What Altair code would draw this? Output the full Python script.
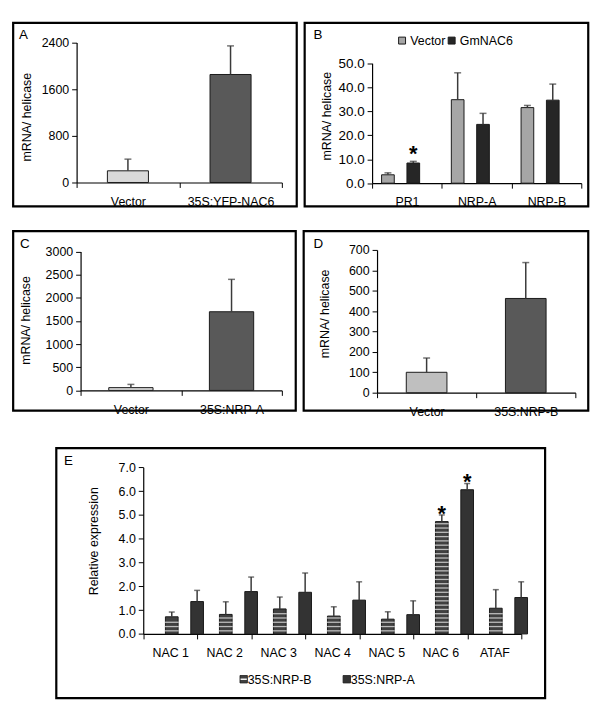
import altair as alt
import pandas as pd

FONT = "Liberation Sans"

# ---------------- data ----------------
A_cats = ["Vector", "35S:YFP-NAC6"]
A_vals = [200, 1850]
A_errs = [200, 490]

B_cats = ["PR1", "NRP-A", "NRP-B"]
B_series = ["Vector", "GmNAC6"]
B_vector = [3.5, 34.8, 31.5]
B_vector_err = [0.8, 11.2, 0.9]
B_nac6 = [8.4, 24.5, 34.6]
B_nac6_err = [0.7, 4.6, 6.7]
B_nac6_sig = [True, False, False]

C_cats = ["Vector", "35S:NRP-A"]
C_vals = [60, 1700]
C_errs = [70, 700]

D_cats = ["Vector", "35S:NRP-B"]
D_vals = [100, 462]
D_errs = [70, 176]

E_cats = ["NAC 1", "NAC 2", "NAC 3", "NAC 4", "NAC 5", "NAC 6", "ATAF"]
E_series = ["35S:NRP-B", "35S:NRP-A"]
E_nrpb = [0.72, 0.82, 1.05, 0.75, 0.62, 4.72, 1.08]
E_nrpb_err = [0.20, 0.53, 0.50, 0.39, 0.31, 0.28, 0.78]
E_nrpa = [1.36, 1.78, 1.75, 1.42, 0.81, 6.06, 1.53]
E_nrpa_err = [0.47, 0.61, 0.81, 0.77, 0.58, 0.26, 0.66]
E_sig = [False, False, False, False, False, True, False]

DARK = "#1a1a1a"
ERRC = "#3a3a3a"


def x_axis(offset, pad=8):
    return alt.Axis(title=None, labelAngle=0, tickBand="extent", tickSize=5,
                    labelPadding=pad, domainWidth=1.2, domainColor="#000",
                    tickColor="#000", tickWidth=1, labelColor="#000", labelFont=FONT,
                    labelFontSize=12.5, offset=offset, labelOverlap=False)


def y_axis(ticks, fmt, title, offset, tx, ty, lsize=12.5):
    return alt.Axis(values=ticks, format=fmt, grid=False, tickSize=5,
                    labelPadding=3, domainWidth=1.2, domainColor="#000",
                    tickColor="#000", tickWidth=1, labelColor="#000", labelFont=FONT,
                    labelFontSize=lsize, title=title, titleFont=FONT,
                    titleFontSize=12.5, titleFontWeight="normal",
                    titleColor="#000", titleX=tx, titleY=ty,
                    titleAlign="center", titleBaseline="middle", titleAngle=270,
                    offset=offset, labelOverlap=False)


def frame(W, H, letter, lxy):
    one = pd.DataFrame({"k": [0]})
    rect = alt.Chart(one).mark_rect(fill="white", fillOpacity=0, stroke="#000",
                                    strokeWidth=2.2).encode(
        x=alt.value(0), x2=alt.value(W), y=alt.value(0), y2=alt.value(H))
    lab = alt.Chart(one).mark_text(text=letter, align="left", baseline="alphabetic",
                                   fontSize=13.5, font=FONT, color="#000").encode(
        x=alt.value(lxy[0]), y=alt.value(lxy[1]))
    return rect, lab


def single_panel(cats, vals, errs, colors, ymax, ticks, W, H, xr, yr,
                 letter, lxy, txy, band=0.4):
    df = pd.DataFrame({"cat": cats, "val": vals, "err": errs})
    base = alt.Chart(df).transform_calculate(top="datum.val + datum.err")
    xscale = alt.Scale(range=list(xr), paddingInner=0, paddingOuter=0)
    yscale = alt.Scale(domain=[0, ymax], range=[yr[0], yr[1]], nice=False, zero=True)
    xa = x_axis(-(H - yr[0]))
    ya = y_axis(ticks, "d", "mRNA/ helicase", -xr[0], txy[0], txy[1])
    xe = alt.X("cat:N", sort=cats, scale=xscale, axis=xa)
    bars = base.mark_bar(width=alt.RelativeBandSize(band), stroke=DARK,
                         strokeWidth=1).encode(
        x=xe, y=alt.Y("val:Q", scale=yscale, axis=ya),
        fill=alt.Fill("cat:N", scale=alt.Scale(domain=cats, range=colors), legend=None))
    err = base.mark_rule(color=ERRC, strokeWidth=1.5).encode(
        x=xe, y=alt.Y("val:Q", scale=yscale, axis=ya), y2="top:Q")
    cap = base.mark_tick(orient="horizontal", size=7, thickness=1.5, color=ERRC).encode(
        x=xe, y=alt.Y("top:Q", scale=yscale, axis=ya))
    rect, lab = frame(W, H, letter, lxy)
    return alt.layer(bars, err, cap, lab, rect).properties(width=W, height=H)


# ---------------- panel A ----------------
pA = single_panel(A_cats, A_vals, A_errs, ["#d9d9d9", "#595959"], 2400,
                  [0, 800, 1600, 2400], 286, 185, (64, 271), (161, 19.7),
                  "A", (6, 16), (-51, 94.7))

# ---------------- panel C ----------------
pC = single_panel(C_cats, C_vals, C_errs, ["#d9d9d9", "#595959"], 3000,
                  [0, 500, 1000, 1500, 2000, 2500, 3000], 285, 181, (68, 271),
                  (160.7, 20.7), "C", (7, 17.3), (-56, 89.7), band=0.44)

# ---------------- panel D ----------------
pD = single_panel(D_cats, D_vals, D_errs, ["#bfbfbf", "#595959"], 700,
                  [0, 100, 200, 300, 400, 500, 600, 700], 287, 181, (74, 274),
                  (163, 19), "D", (10, 17), (-53, 83), band=0.41)

# ---------------- panel B ----------------
WB, HB = 286, 185
rowsB = []
for i, c in enumerate(B_cats):
    rowsB.append({"cat": c, "series": B_series[0], "val": B_vector[i],
                  "err": B_vector_err[i], "sig": False})
    rowsB.append({"cat": c, "series": B_series[1], "val": B_nac6[i],
                  "err": B_nac6_err[i], "sig": B_nac6_sig[i]})
dfB = pd.DataFrame(rowsB)
baseB = alt.Chart(dfB).transform_calculate(top="datum.val + datum.err")
xaB = x_axis(-(HB - 161.7))
yaB = y_axis([0, 10, 20, 30, 40, 50], ".1f", "mRNA/ helicase", -68, -46, 93.7, 13.5)
ysB = alt.Scale(domain=[0, 50], range=[161.7, 40.7], nice=False)
xB = alt.X("cat:N", sort=B_cats,
           scale=alt.Scale(range=[68, 279], paddingInner=0, paddingOuter=0), axis=xaB)
xoB = alt.XOffset("series:N", sort=B_series,
                  scale=alt.Scale(paddingInner=0, paddingOuter=0.75))
barsB = baseB.mark_bar(stroke=DARK, strokeWidth=1).encode(
    x=xB, xOffset=xoB,
    y=alt.Y("val:Q", scale=ysB, axis=yaB),
    fill=alt.Fill("series:N", sort=B_series,
                  scale=alt.Scale(domain=B_series, range=["#a6a6a6", "#262626"]),
                  legend=alt.Legend(title=None, orient="none", direction="horizontal",
                                    legendX=92, legendY=11.5, padding=0,
                                    symbolType="square", symbolSize=49,
                                    symbolStrokeColor=DARK, symbolStrokeWidth=1,
                                    labelFont=FONT, labelFontSize=12.5,
                                    labelColor="#000", labelOffset=2,
                                    columnPadding=0)))
errB = baseB.mark_rule(color=ERRC, strokeWidth=1.5).encode(
    x=xB, xOffset=xoB, y=alt.Y("val:Q", scale=ysB, axis=yaB), y2="top:Q")
capB = baseB.mark_tick(orient="horizontal", size=7, thickness=1.5, color=ERRC).encode(
    x=xB, xOffset=xoB, y=alt.Y("top:Q", scale=ysB, axis=yaB))
starB = baseB.transform_filter("datum.sig").mark_text(
    text="*", fontSize=22, fontWeight="bold", font=FONT, baseline="alphabetic",
    dy=0, color="#000").encode(
    x=xB, xOffset=xoB, y=alt.Y("top:Q", scale=ysB, axis=yaB))
rectB, labB = frame(WB, HB, "B", (9, 16))
pB = alt.layer(barsB, errB, capB, starB, labB, rectB).properties(width=WB, height=HB)

# ---------------- panel E ----------------
WE, HE = 493, 252
rowsE = []
for i, c in enumerate(E_cats):
    rowsE.append({"cat": c, "series": E_series[0], "val": E_nrpb[i],
                  "err": E_nrpb_err[i], "sig": E_sig[i]})
    rowsE.append({"cat": c, "series": E_series[1], "val": E_nrpa[i],
                  "err": E_nrpa_err[i], "sig": E_sig[i]})
dfE = pd.DataFrame(rowsE)
baseE = alt.Chart(dfE).transform_calculate(top="datum.val + datum.err")
xaE = x_axis(-(HE - 187.3))
yaE = y_axis([0, 1, 2, 3, 4, 5, 6, 7], ".1f", "Relative expression", -87.7, -50, 93.3)
ysE = alt.Scale(domain=[0, 7], range=[187.3, 19.3], nice=False)
xE = alt.X("cat:N", sort=E_cats,
           scale=alt.Scale(range=[87.7, 469], paddingInner=0, paddingOuter=0), axis=xaE)
xoE = alt.XOffset("series:N", sort=E_series,
                  scale=alt.Scale(paddingInner=0, paddingOuter=0.735))
fillE = alt.Fill("series:N", sort=E_series,
                 scale=alt.Scale(domain=E_series, range=["#404040", "#333333"]),
                 legend=None)
barsE = baseE.mark_bar(stroke=DARK, strokeWidth=1).encode(
    x=xE, xOffset=xoE, y=alt.Y("val:Q", scale=ysE, axis=yaE), fill=fillE)
stripesE = baseE.transform_filter(f"datum.series == '{E_series[0]}'").transform_calculate(
    s="sequence(0.13, datum.val - 0.05, 0.18)").transform_flatten(["s"]).mark_tick(
    orient="horizontal", size=14, thickness=1.3, color="#f2f2f2").encode(
    x=xE, xOffset=xoE, y=alt.Y("s:Q", scale=ysE, axis=yaE))
errE = baseE.mark_rule(color=ERRC, strokeWidth=1.5).encode(
    x=xE, xOffset=xoE, y=alt.Y("val:Q", scale=ysE, axis=yaE), y2="top:Q")
capE = baseE.mark_tick(orient="horizontal", size=6, thickness=1.5, color=ERRC).encode(
    x=xE, xOffset=xoE, y=alt.Y("top:Q", scale=ysE, axis=yaE))
starE = baseE.transform_filter("datum.sig").mark_text(
    text="*", fontSize=22, fontWeight="bold", font=FONT, baseline="alphabetic",
    dy=6, color="#000").encode(
    x=xE, xOffset=xoE, y=alt.Y("top:Q", scale=ysE, axis=yaE))
mainE = alt.layer(barsE, stripesE, errE, capE, starE)

legE_df = pd.DataFrame({"series": E_series})
legx = alt.X("series:N", sort=E_series,
             scale=alt.Scale(domain=E_series, range=[189, 293], padding=0), axis=None)
legSq = alt.Chart(legE_df).mark_square(size=56, opacity=1, stroke=DARK,
                                       strokeWidth=0.8).encode(
    x=legx, y=alt.value(233), fill=fillE)
legStripe = alt.Chart(legE_df).transform_filter(
    f"datum.series == '{E_series[0]}'").mark_point(
    shape="M-1,0H1", size=40, stroke="#f2f2f2", strokeWidth=1.5, opacity=1).encode(
    x=legx, y=alt.value(233))
legTxt = alt.Chart(legE_df).mark_text(align="left", baseline="middle", dx=4,
                                      fontSize=12.5, font=FONT, color="#000").encode(
    x=legx, y=alt.value(233.5), text="series:N")
legE = alt.layer(legSq, legStripe, legTxt)
rectE, labE = frame(WE, HE, "E", (7.7, 17))
pE = alt.layer(mainE, legE, labE, rectE).resolve_scale(x="independent").properties(
    width=WE, height=HE)

# ---------------- layout ----------------
row1 = alt.hconcat(pA, pB, spacing=4).resolve_scale(fill="independent", x="independent",
                                                     y="independent")
row2 = alt.hconcat(pC, pD, spacing=4).resolve_scale(fill="independent", x="independent",
                                                     y="independent")
top = alt.vconcat(row1, row2, spacing=20).resolve_scale(fill="independent",
                                                         x="independent", y="independent")
chart = alt.vconcat(top, pE, spacing=28, center=True).resolve_scale(
    fill="independent", x="independent", y="independent").properties(
    padding={"left": 3, "top": 10, "right": 2, "bottom": 2}).configure_view(
    strokeWidth=0).configure(font=FONT, background="white")

chart.save("out.html", embed_options={"renderer": "svg", "actions": False})
